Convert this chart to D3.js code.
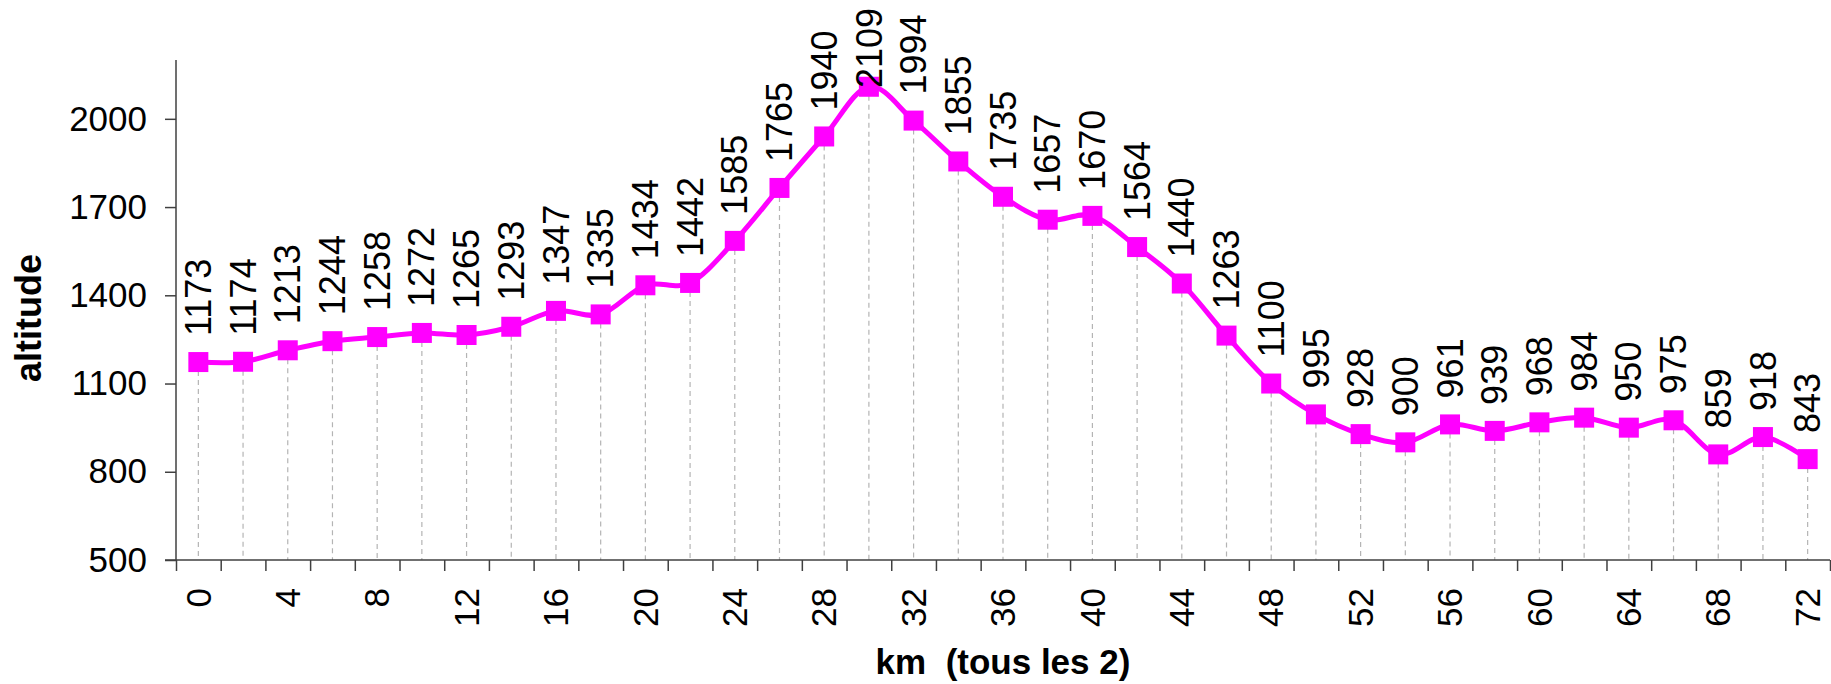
<!DOCTYPE html>
<html>
<head>
<meta charset="utf-8">
<script src="https://cdn.jsdelivr.net/npm/d3@7"></script>
<style>
  body { margin: 0; background: #fff; }
  text { font-family: "Liberation Sans", Arial, sans-serif; fill: #000; }
</style>
</head>
<body>
<div id="chart"></div>
<script>
// data : altitude tous les 2 km
const km = [0, 2, 4, 6, 8, 10, 12, 14, 16, 18, 20, 22, 24, 26, 28, 30, 32, 34, 36,
  38, 40, 42, 44, 46, 48, 50, 52, 54, 56, 58, 60, 62, 64, 66, 68, 70, 72]
const altitude = [1173, 1174, 1213, 1244, 1258, 1272, 1265, 1293, 1347, 1335, 1434, 1442,
  1585, 1765, 1940, 2109, 1994, 1855, 1735, 1657, 1670, 1564, 1440, 1263, 1100,
  995, 928, 900, 961, 939, 968, 984, 950, 975, 859, 918, 843]
const yTicks = [500, 800, 1100, 1400, 1700, 2000]
const xLabels = [0, 4, 8, 12, 16, 20, 24, 28, 32, 36, 40, 44, 48, 52, 56, 60, 64, 68, 72]

const data = km.map((k, i) => ({ km: k, alt: altitude[i] }))

const width = 1831,
  height = 684,
  margin = { top: 60, right: 1, bottom: 124, left: 176 };

const svg = d3.select("#chart")
  .append("svg")
  .attr("width", width)
  .attr("height", height);

const xScale = d3.scaleBand()
  .domain(km)
  .range([margin.left, width - margin.right])
  .padding(0);

// tick marks sit on the category boundaries
const xEdge = d3.scaleLinear()
  .domain([0, km.length])
  .range([margin.left, width - margin.right]);

const yScale = d3.scaleLinear()
  .domain([500, 2200])
  .range([height - margin.bottom, margin.top]);

const cx = d => xScale(d.km) + xScale.bandwidth() / 2;
const y0 = height - margin.bottom;

// dashed drop lines
svg.append("g")
  .selectAll("line")
  .data(data)
  .enter().append("line")
  .attr("x1", cx)
  .attr("x2", cx)
  .attr("y1", d => yScale(d.alt))
  .attr("y2", y0)
  .attr("stroke", "#b4b4b4")
  .attr("stroke-width", 1.2)
  .attr("stroke-dasharray", "5,4");

// axes
const axisColor = "#404040";

const yAxis = svg.append("g")
  .attr("transform", `translate(${margin.left},0)`)
  .call(d3.axisLeft(yScale).tickValues(yTicks).tickFormat(d3.format("d"))
    .tickSize(11).tickPadding(18).tickSizeOuter(0));
yAxis.select(".domain").remove();
yAxis.append("line")
  .attr("x1", 0).attr("x2", 0)
  .attr("y1", margin.top).attr("y2", y0)
  .attr("stroke", axisColor).attr("stroke-width", 1.5);
yAxis.selectAll(".tick line").attr("stroke", axisColor).attr("stroke-width", 1.5);
yAxis.selectAll("text")
  .attr("font-size", "35px")
  .attr("font-family", "Liberation Sans, Arial, sans-serif")
  .attr("fill", "#000");

const xTicks = svg.append("g")
  .attr("transform", `translate(0,${y0})`)
  .call(d3.axisBottom(xEdge).tickValues(d3.range(km.length + 1)).tickSize(11).tickFormat("").tickSizeOuter(0));
xTicks.select(".domain").remove();
xTicks.selectAll(".tick line").attr("stroke", axisColor).attr("stroke-width", 1.5);
xTicks.append("line")
  .attr("x1", margin.left - 11).attr("x2", width - margin.right)
  .attr("stroke", axisColor).attr("stroke-width", 1.5);

svg.append("g")
  .selectAll("text")
  .data(xLabels)
  .enter().append("text")
  .attr("transform", d => `translate(${xScale(d) + xScale.bandwidth() / 2},${y0 + 28}) rotate(-90)`)
  .attr("dy", "0.35em")
  .attr("text-anchor", "end")
  .attr("font-size", "35px")
  .text(d => d);

// smoothed line
const line = d3.line()
  .x(cx)
  .y(d => yScale(d.alt))
  .curve(d3.curveCardinal.tension(0));

svg.append("path")
  .datum(data)
  .attr("fill", "none")
  .attr("stroke", "#ff00ff")
  .attr("stroke-width", 5)
  .attr("d", line);

// square markers
const ms = 20;
svg.append("g")
  .selectAll("rect")
  .data(data)
  .enter().append("rect")
  .attr("x", d => cx(d) - ms / 2)
  .attr("y", d => yScale(d.alt) - ms / 2)
  .attr("width", ms)
  .attr("height", ms)
  .attr("fill", "#ff00ff");

// value labels, kept inside the chart at the top
const labels = svg.append("g")
  .selectAll("text")
  .data(data)
  .enter().append("text")
  .attr("text-anchor", "start")
  .attr("dy", "0.35em")
  .attr("font-size", "36px")
  .text(d => d.alt);

labels.each(function (d) {
  const len = this.getComputedTextLength();
  const yb = Math.max(yScale(d.alt) - 26, 8 + len);
  d3.select(this).attr("transform", `translate(${cx(d)},${yb}) rotate(-90)`);
});

// axis titles
svg.append("text")
  .attr("transform", `translate(41,${(margin.top + y0) / 2 + 8}) rotate(-90)`)
  .attr("text-anchor", "middle")
  .attr("font-size", "36px")
  .attr("font-weight", "bold")
  .text("altitude");

svg.append("text")
  .attr("x", (margin.left + width - margin.right) / 2)
  .attr("y", 674)
  .attr("text-anchor", "middle")
  .attr("font-size", "35px")
  .attr("font-weight", "bold")
  .attr("xml:space", "preserve")
  .style("white-space", "pre")
  .text("km  (tous les 2)");
</script>
</body>
</html>
